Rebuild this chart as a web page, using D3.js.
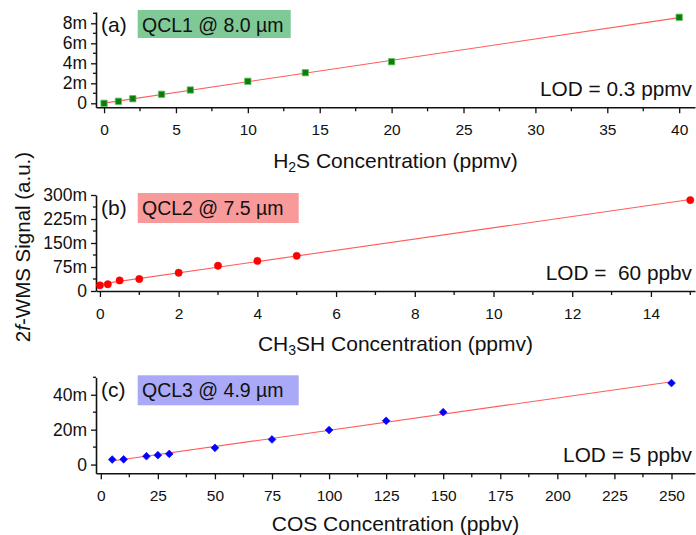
<!DOCTYPE html>
<html>
<head>
<meta charset="utf-8">
<script src="https://cdn.jsdelivr.net/npm/d3@7"></script>
<style>
  html, body { margin: 0; padding: 0; background: #fff; }
  svg { display: block; font-family: "Liberation Sans", Arial, sans-serif; }
</style>
</head>
<body>
<svg id="chart" width="696" height="535"></svg>
<script>
// H2S calibration (QCL1)
const h2sConc   = [0, 1, 2, 4, 6, 10, 14, 20, 40];                          // ppmv
const h2sSignal = [0, 0.2, 0.46, 0.9, 1.33, 2.2, 3.06, 4.16, 8.6];          // m (a.u.)
const h2sXTicks = [0, 5, 10, 15, 20, 25, 30, 35, 40];
const h2sYTicks = [0, 2, 4, 6, 8];
const h2sYLabels = ["0", "2m", "4m", "6m", "8m"];

// CH3SH calibration (QCL2)
const ch3shConc   = [0, 0.2, 0.5, 1, 2, 3, 4, 5, 15];                       // ppmv
const ch3shSignal = [17.8, 21, 33, 37.5, 57, 79, 94, 110, 284];             // m (a.u.)
const ch3shXTicks = [0, 2, 4, 6, 8, 10, 12, 14];
const ch3shYTicks = [0, 75, 150, 225, 300];
const ch3shYLabels = ["0", "75m", "150m", "225m", "300m"];

// COS calibration (QCL3)
const cosConc   = [5, 10, 20, 25, 30, 50, 75, 100, 125, 150, 250];          // ppbv
const cosSignal = [2.9, 3.0, 4.8, 5.4, 6.1, 9.6, 14.4, 19.8, 25.1, 30.0, 46.7]; // m (a.u.)
const cosXTicks = [0, 25, 50, 75, 100, 125, 150, 175, 200, 225, 250];
const cosYTicks = [0, 20, 40];
const cosYLabels = ["0", "20m", "40m"];

const svg = d3.select("#chart");
const FIT_COLOR = "#ff5c5c";
const INK = "#111";

// ordinary least-squares line through the measured points
function linearFit(xs, ys) {
  const n = xs.length;
  const mx = d3.mean(xs), my = d3.mean(ys);
  let sxy = 0, sxx = 0;
  for (let i = 0; i < n; i++) {
    sxy += (xs[i] - mx) * (ys[i] - my);
    sxx += (xs[i] - mx) * (xs[i] - mx);
  }
  const slope = sxy / sxx;
  return { slope, intercept: my - slope * mx };
}

const panels = [
  {
    tag: "(a)", laser: "QCL1 @ 8.0 µm", boxFill: "#7fc996", boxW: 153, boxH: 28,
    lod: "LOD = 0.3 ppmv",
    titleParts: [["H", 0], ["2", 1], ["S Concentration (ppmv)", 0]],
    xs: h2sConc, ys: h2sSignal, xTicks: h2sXTicks, xMinorStep: 2.5,
    yTicks: h2sYTicks, yLabels: h2sYLabels, yMinorStep: 1,
    xDomain: [-0.56, 41.1], yDomain: [-0.4, 9.13],
    top: 12, bottom: 107.3, titleGap: 60.7, marker: "square", color: "#0b7d0b",
    fitFrom: 0, fitTo: 40
  },
  {
    tag: "(b)", laser: "QCL2 @ 7.5 µm", boxFill: "#f99a9a", boxW: 161, boxH: 30,
    lod: "LOD =\u00a0 60 ppbv",
    titleParts: [["CH", 0], ["3", 1], ["SH Concentration (ppmv)", 0]],
    xs: ch3shConc, ys: ch3shSignal, xTicks: ch3shXTicks, xMinorStep: 1,
    yTicks: ch3shYTicks, yLabels: ch3shYLabels, yMinorStep: 37.5,
    xDomain: [-0.1, 15.12], yDomain: [0, 300],
    top: 195, bottom: 291, titleGap: 59.5, marker: "circle", color: "#ff0000",
    fitFrom: 0, fitTo: 15
  },
  {
    tag: "(c)", laser: "QCL3 @ 4.9 µm", boxFill: "#a9a9f7", boxW: 161, boxH: 30,
    lod: "LOD = 5 ppbv",
    titleParts: [["COS Concentration (ppbv)", 0]],
    xs: cosConc, ys: cosSignal, xTicks: cosXTicks, xMinorStep: 12.5,
    yTicks: cosYTicks, yLabels: cosYLabels, yMinorStep: 10,
    xDomain: [-2.1, 260.3], yDomain: [-5, 50],
    top: 377.3, bottom: 473.3, titleGap: 57.5, marker: "diamond", color: "#0000ff",
    fitFrom: 5, fitTo: 250
  }
];

const left = 96, right = 695;

panels.forEach(p => {
  const x = d3.scaleLinear().domain(p.xDomain).range([left, right]);
  const y = d3.scaleLinear().domain(p.yDomain).range([p.bottom, p.top]);
  const g = svg.append("g");

  // minor tick positions between the labelled ticks
  const xMinor = d3.range(0, p.xDomain[1] + 1e-9, p.xMinorStep)
    .filter(v => !p.xTicks.some(t => Math.abs(t - v) < 1e-9));
  const yMinor = d3.range(0, p.yDomain[1] + 1e-9, p.yMinorStep)
    .filter(v => !p.yTicks.some(t => Math.abs(t - v) < 1e-9));

  // x axis
  const xAxis = g.append("g").attr("transform", `translate(0,${p.bottom})`);
  xAxis.call(d3.axisBottom(x).tickValues(p.xTicks).tickSize(6).tickPadding(10.5)
    .tickFormat(d3.format("d")).tickSizeOuter(0));
  xAxis.append("g").selectAll("line").data(xMinor).join("line")
    .attr("x1", d => x(d)).attr("x2", d => x(d)).attr("y1", 0).attr("y2", 4);
  xAxis.selectAll(".tick text").attr("font-size", 15.5);

  // y axis
  const yAxis = g.append("g").attr("transform", `translate(${left},0)`);
  yAxis.call(d3.axisLeft(y).tickValues(p.yTicks).tickSize(5).tickPadding(4)
    .tickFormat((d, i) => p.yLabels[i]).tickSizeOuter(0));
  yAxis.append("g").selectAll("line").data(yMinor).join("line")
    .attr("x1", 0).attr("x2", -3).attr("y1", d => y(d)).attr("y2", d => y(d));
  yAxis.selectAll(".tick text").attr("font-size", 17.5);

  [xAxis, yAxis].forEach(a => {
    a.selectAll("path.domain").attr("stroke", INK).attr("stroke-width", 1.6);
    a.selectAll("line").attr("stroke", INK).attr("stroke-width", 1.3);
    a.selectAll("text").attr("fill", INK)
      .attr("font-family", "'Liberation Sans', Arial, sans-serif");
  });

  // linear fit
  const fit = linearFit(p.xs, p.ys);
  g.append("line")
    .attr("x1", x(p.fitFrom)).attr("y1", y(fit.intercept + fit.slope * p.fitFrom))
    .attr("x2", x(p.fitTo)).attr("y2", y(fit.intercept + fit.slope * p.fitTo))
    .attr("stroke", FIT_COLOR).attr("stroke-width", 1.1);

  // measured points
  const pts = p.xs.map((v, i) => [v, p.ys[i]]);
  const markers = g.append("g").selectAll("path").data(pts).join("path");
  if (p.marker === "square") {
    markers.attr("transform", d => `translate(${x(d[0])},${y(d[1])})`)
      .attr("d", d3.symbol(d3.symbolSquare, 40))
      .attr("fill", p.color).attr("stroke", "#62c062").attr("stroke-width", 0.8);
  } else if (p.marker === "circle") {
    markers.attr("transform", d => `translate(${x(d[0])},${y(d[1])})`)
      .attr("d", d3.symbol(d3.symbolCircle, 42))
      .attr("fill", p.color).attr("stroke", p.color).attr("stroke-width", 0.5);
  } else {
    // diamond as a square turned 45 degrees
    markers.attr("transform", d => `translate(${x(d[0])},${y(d[1])}) rotate(45)`)
      .attr("d", d3.symbol(d3.symbolSquare, 30))
      .attr("fill", p.color).attr("stroke", p.color).attr("stroke-width", 0.6);
  }

  // panel tag and laser label
  const labelBase = p.top + 20;
  g.append("text").attr("x", 101).attr("y", labelBase)
    .attr("font-size", 21).attr("fill", INK).text(p.tag);
  g.append("rect").attr("x", 137.7).attr("y", labelBase - 22)
    .attr("width", p.boxW).attr("height", p.boxH).attr("fill", p.boxFill);
  g.append("text").attr("x", 142).attr("y", labelBase)
    .attr("font-size", 19.5).attr("fill", INK).text(p.laser);

  // detection limit
  g.append("text").attr("x", 692).attr("y", p.bottom - 11)
    .attr("text-anchor", "end").attr("font-size", 20.8).attr("fill", INK)
    .text(p.lod);

  // x title with subscripts
  const t = g.append("text").attr("x", (left + right) / 2).attr("y", p.bottom + p.titleGap)
    .attr("text-anchor", "middle").attr("font-size", 21).attr("fill", INK);
  p.titleParts.forEach(([s, sub]) => {
    const ts = t.append("tspan").text(s);
    if (sub) ts.attr("font-size", 14).attr("baseline-shift", "-30%");
  });
});

// shared y title
const yt = svg.append("text")
  .attr("transform", "translate(29.5,247) rotate(-90)")
  .attr("text-anchor", "middle").attr("font-size", 20.5).attr("fill", INK);
yt.append("tspan").text("2");
yt.append("tspan").attr("font-style", "italic").text("f");
yt.append("tspan").text("-WMS Signal (a.u.)");
</script>
</body>
</html>
